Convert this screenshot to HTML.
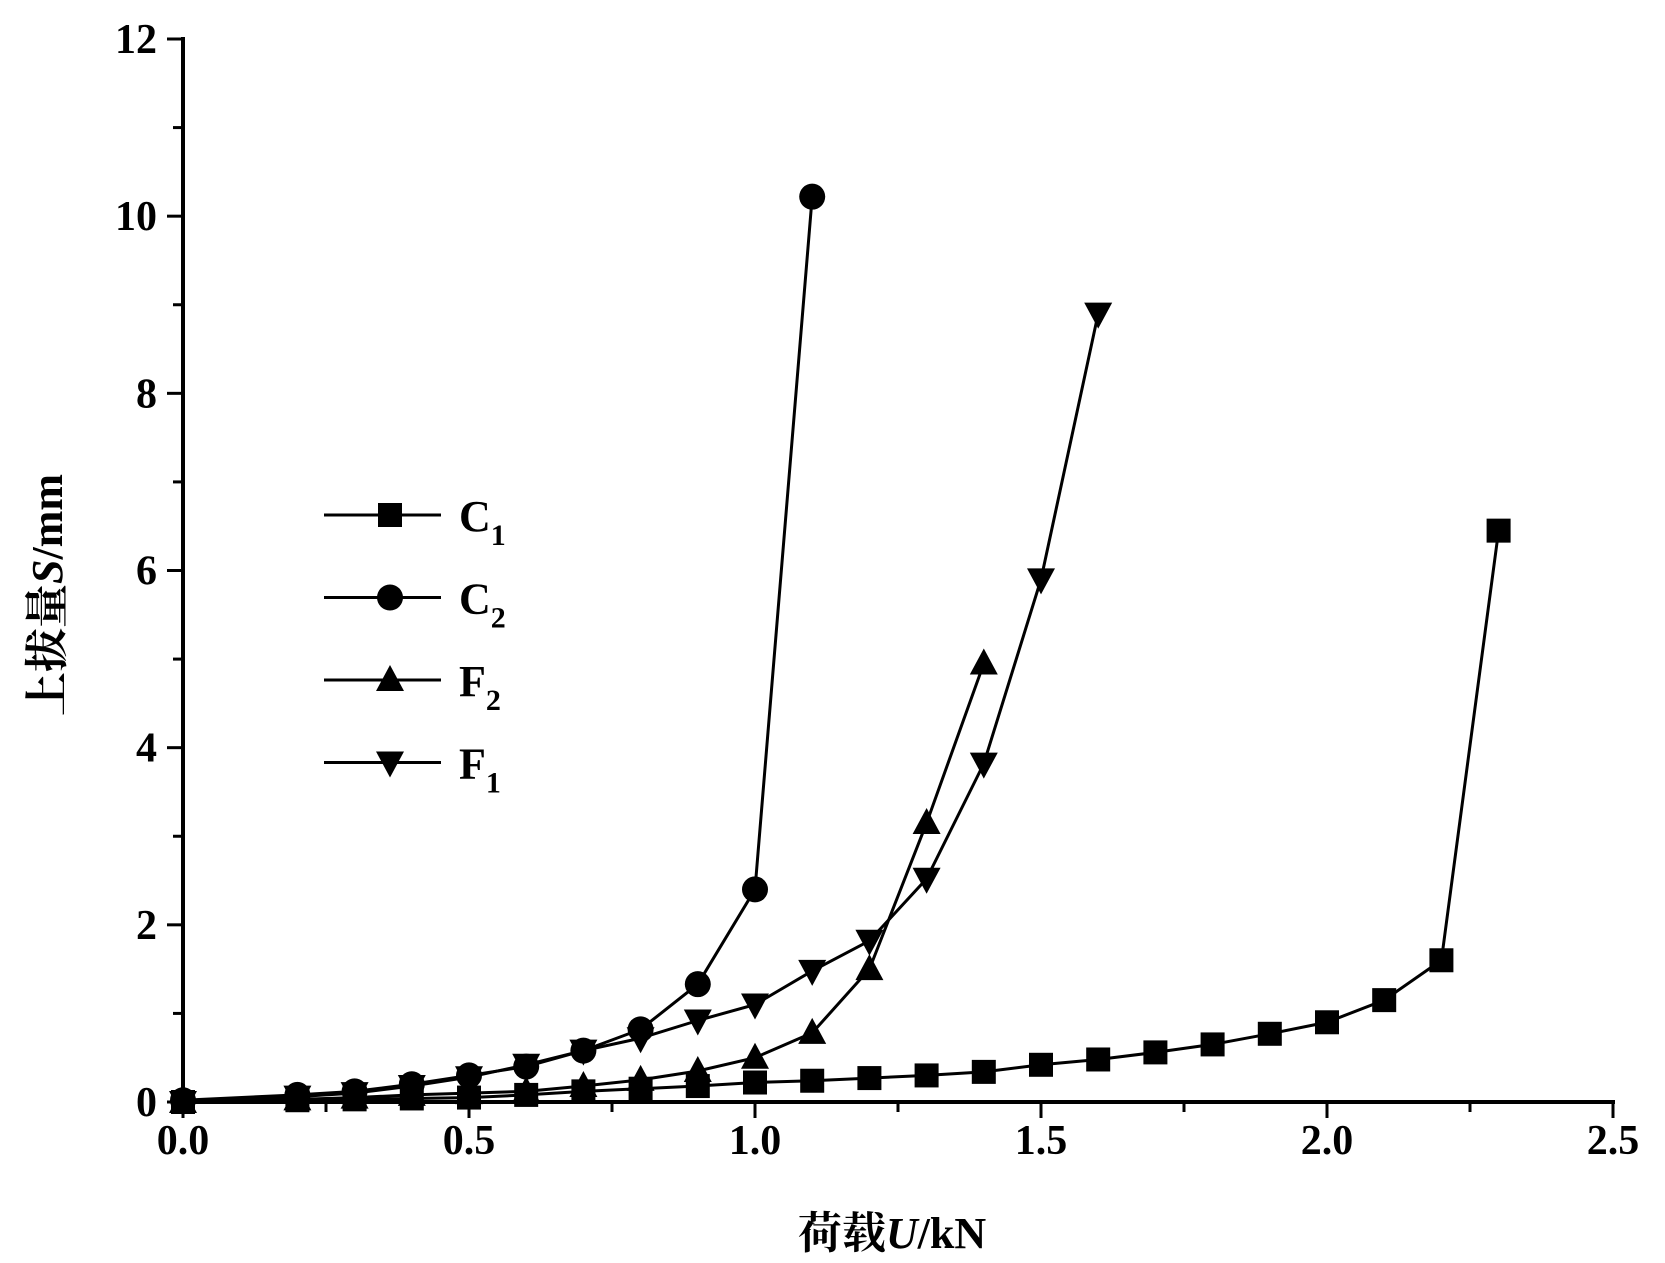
<!DOCTYPE html>
<html><head><meta charset="utf-8"><style>body{margin:0;background:#fff}svg{display:block}</style></head>
<body>
<svg id="chart" width="1665" height="1263" viewBox="0 0 1665 1263" xmlns="http://www.w3.org/2000/svg" font-family="'Liberation Serif','Noto Serif CJK SC',serif">
<g id="axes"></g><g id="series"></g><g id="legend"></g>
</svg>
<script>
const xTicks=[0,0.5,1.0,1.5,2.0,2.5];
const xTickLabels=["0.0","0.5","1.0","1.5","2.0","2.5"];
const yTicks=[0,2,4,6,8,10,12];
const yTickLabels=["0","2","4","6","8","10","12"];
const c1X=[0,0.2,0.3,0.4,0.5,0.6,0.7,0.8,0.9,1.0,1.1,1.2,1.3,1.4,1.5,1.6,1.7,1.8,1.9,2.0,2.1,2.2,2.3];
const c1Y=[0,0.02,0.03,0.04,0.05,0.08,0.12,0.15,0.18,0.22,0.24,0.27,0.3,0.34,0.42,0.48,0.56,0.65,0.77,0.9,1.15,1.6,6.45];
const c2X=[0,0.2,0.3,0.4,0.5,0.6,0.7,0.8,0.9,1.0,1.1];
const c2Y=[0.02,0.08,0.12,0.2,0.3,0.4,0.58,0.82,1.33,2.4,10.22];
const f2X=[0,0.2,0.3,0.4,0.5,0.6,0.7,0.8,0.9,1.0,1.1,1.2,1.3,1.4];
const f2Y=[0,0.03,0.05,0.08,0.1,0.12,0.18,0.25,0.35,0.5,0.78,1.5,3.15,4.95];
const f1X=[0,0.2,0.3,0.4,0.5,0.6,0.7,0.8,0.9,1.0,1.1,1.2,1.3,1.4,1.5,1.6];
const f1Y=[0,0.06,0.1,0.18,0.28,0.42,0.58,0.72,0.92,1.1,1.48,1.82,2.52,3.82,5.9,8.9];

const NS="http://www.w3.org/2000/svg";
const X0=183,X1=1613,Y0=1102,Y1=39;
const sx=v=>X0+(v/2.5)*(X1-X0);
const sy=v=>Y0-(v/12)*(Y0-Y1);
function mk(t,a,p){const e=document.createElementNS(NS,t);for(const k in a)e.setAttribute(k,a[k]);p.appendChild(e);return e;}
const axes=document.getElementById('axes');
let e=mk('line',{x1:X0,y1:Y0,x2:X1+2,y2:Y0,stroke:'#000','stroke-width':4},axes);

e=mk('line',{x1:X0,y1:Y1-2,x2:X0,y2:Y0+2,stroke:'#000','stroke-width':4},axes);

for(let v=0;v<=2.5001;v+=0.25){const major=Math.abs(v*2-Math.round(v*2))<1e-6;
 e=mk('line',{x1:sx(v),y1:Y0,x2:sx(v),y2:Y0+(major?16:10),stroke:'#000','stroke-width':3},axes);
 }
for(let v=0;v<=12;v+=1){const major=v%2===0;
 e=mk('line',{x1:X0,y1:sy(v),x2:X0-(major?16:10),y2:sy(v),stroke:'#000','stroke-width':3},axes);
 }
xTicks.forEach((v,i)=>{e=mk('text',{x:sx(v),y:Y0+52,'text-anchor':'middle','font-size':42,'font-weight':'bold'},axes);e.textContent=xTickLabels[i];
 });
yTicks.forEach((v,i)=>{e=mk('text',{x:X0-26,y:sy(v)+14,'text-anchor':'end','font-size':42,'font-weight':'bold'},axes);e.textContent=yTickLabels[i];
 });
e=mk('text',{x:892,y:1248,'text-anchor':'middle','font-size':44,'font-weight':'bold'},axes);
e.innerHTML='荷载<tspan font-style="italic">U</tspan>/kN';

e=mk('text',{x:0,y:0,'text-anchor':'middle','font-size':44,'font-weight':'bold',transform:'translate(62,595) rotate(-90)'},axes);
e.innerHTML='上拔量<tspan font-style="italic">S</tspan>/mm';


function marker(type,x,y,p){
 if(type==='square')return mk('rect',{x:x-12,y:y-12,width:24,height:24,fill:'#000'},p);
 if(type==='circle')return mk('circle',{cx:x,cy:y,r:13,fill:'#000'},p);
 if(type==='up')return mk('polygon',{points:`${x},${y-15} ${x-14},${y+11} ${x+14},${y+11}`,fill:'#000'},p);
 return mk('polygon',{points:`${x},${y+15} ${x-14},${y-11} ${x+14},${y-11}`,fill:'#000'},p);
}
const series=document.getElementById('series');
const defs=[['c1',c1X,c1Y,'square'],['c2',c2X,c2Y,'circle'],['f2',f2X,f2Y,'up'],['f1',f1X,f1Y,'down']];
defs.forEach(([n,xs,ys,t])=>{
 const g=mk('g',{},series);
 
 const l=mk('polyline',{points:xs.map((x,i)=>sx(x)+','+sy(ys[i])).join(' '),fill:'none',stroke:'#000','stroke-width':3},g);
 
 xs.forEach((x,i)=>{const m=marker(t,sx(x),sy(ys[i]),g);
  });
});
const legend=document.getElementById('legend');
const lg=[['C','1','square'],['C','2','circle'],['F','2','up'],['F','1','down']];
lg.forEach(([a,b,t],i)=>{const y=515+i*82.5;
 const g=mk('g',{},legend);
 mk('line',{x1:324,y1:y,x2:441,y2:y,stroke:'#000','stroke-width':3},g);
 marker(t,390,y,g);
 const tx=mk('text',{x:459,y:y+16,'font-size':44,'font-weight':'bold'},g);
 tx.innerHTML=a+'<tspan font-size="30" dy="14">'+b+'</tspan>';
});
</script>
</body></html>
